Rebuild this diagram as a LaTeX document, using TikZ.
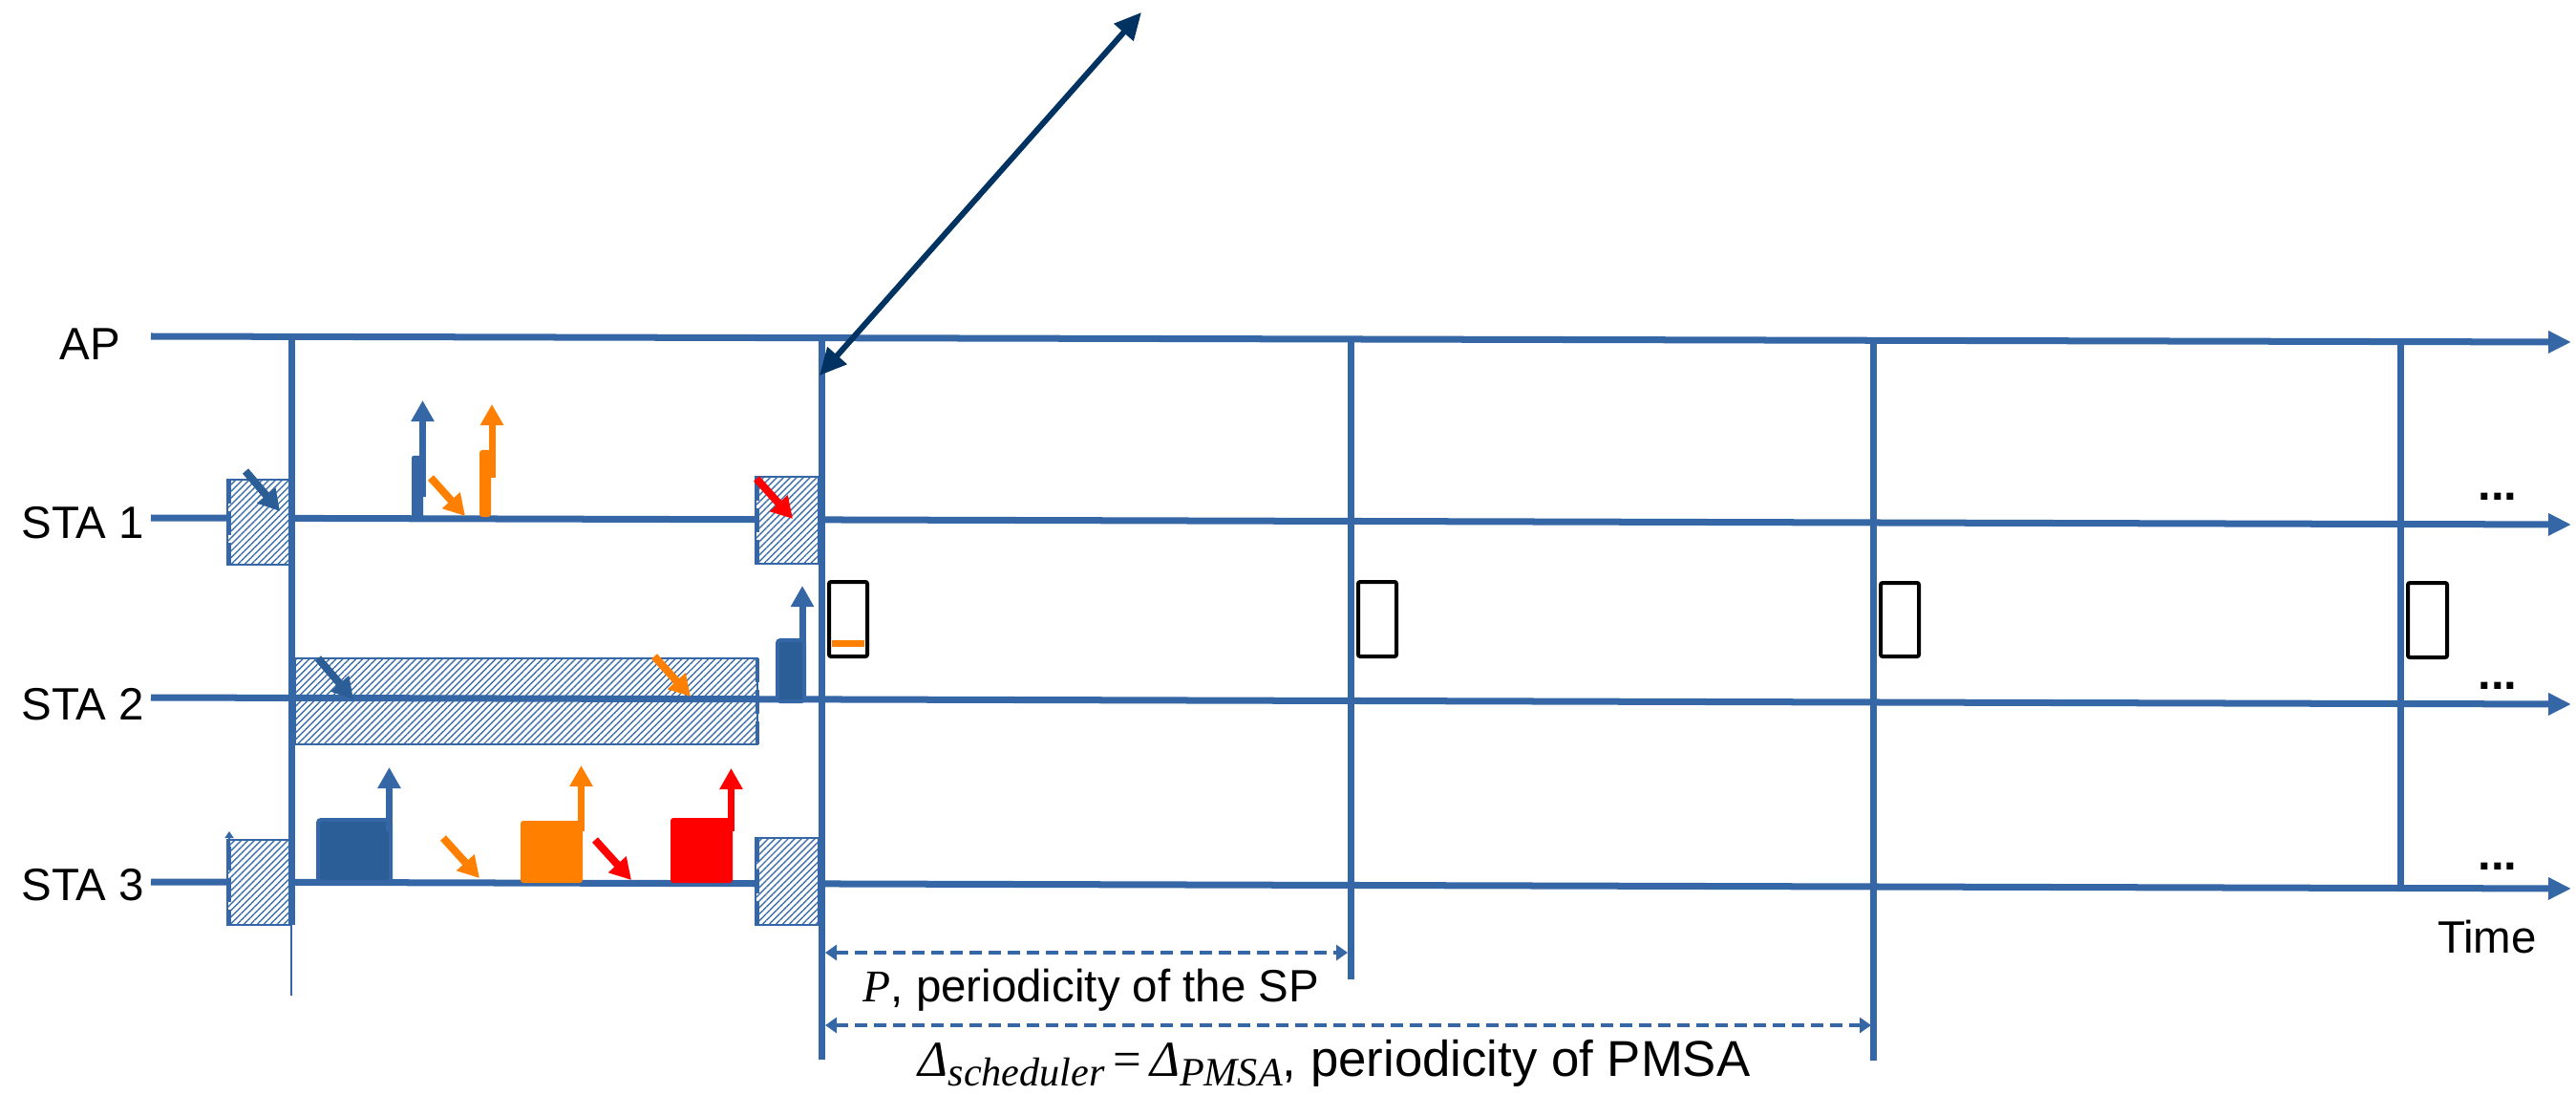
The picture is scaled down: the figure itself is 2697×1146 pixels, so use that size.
\documentclass[tikz,border=0pt]{standalone}
\usepackage{fontspec}
\setmainfont{Liberation Sans}
\newfontfamily\lserif{Liberation Serif}
\usetikzlibrary{arrows.meta,patterns.meta}
\definecolor{lb}{HTML}{3566A5}
\definecolor{db}{HTML}{2B5E96}
\definecolor{navy}{HTML}{003262}
\definecolor{org}{HTML}{FF8000}
\definecolor{rd}{HTML}{FF0000}
\definecolor{hatch}{HTML}{3F70AC}
\begin{document}
\begin{tikzpicture}[x=0.01cm,y=-0.01cm,
  lbl/.style={font=\fontsize{13.5}{16}\selectfont, inner sep=0pt},
  tline/.style={draw=lb, line width=0.07cm, -{Triangle[length=0.24cm,width=0.22cm]}},
  vline/.style={draw=lb, line width=0.07cm},
  thinv/.style={draw=lb, line width=0.015cm},
  hbox/.style={draw=lb, line width=0.02cm, preaction={fill=white}, pattern={Lines[angle=45,distance=1.4pt,line width=0.4pt]}, pattern color=hatch},
  dedge/.style={draw=lb, line width=0.045cm, dash pattern=on 0.25cm off 0.08cm},
  dnarr/.style={line width=0.08cm, -{Triangle[length=0.22cm,width=0.24cm]}},
  uparr/.style={line width=0.07cm, -{Triangle[length=0.22cm,width=0.23cm]}},
  bpkt/.style={fill=db, draw=lb, line width=0.04cm, rounded corners=0.03cm},
  slot/.style={draw=black, line width=0.04cm, rounded corners=0.02cm},
  darr/.style={draw=lb, line width=0.04cm, dash pattern=on 0.13cm off 0.07cm, {Triangle[length=0.12cm,width=0.16cm]}-{Triangle[length=0.12cm,width=0.16cm]}},
  bigarr/.style={draw=navy, line width=0.06cm, {Triangle[length=0.28cm,width=0.26cm]}-{Triangle[length=0.28cm,width=0.26cm]}}
]
\useasboundingbox (0,0) rectangle (2697,1146);

% coordinates of time lines
\coordinate (ap0) at (158,352);  \coordinate (ap1) at (2692,358);
\coordinate (s10) at (158,542);  \coordinate (s11) at (2692,549);
\coordinate (s20) at (158,730);  \coordinate (s21) at (2692,737);
\coordinate (s30) at (158,923);  \coordinate (s31) at (2692,930);

% STA2 long hatched box (under the line)
\draw[hbox] (309,689) rectangle (793,779);
\draw[dedge] (793,689) -- (793,779);

% time lines
\draw[tline] (ap0) -- (ap1);
\draw[tline] (s10) -- (s11);
\draw[tline] (s20) -- (s21);
\draw[tline] (s30) -- (s31);

% hatched boxes STA1 / STA3
\draw[hbox] (238,502) rectangle (305,591);
\draw[dedge] (240,502) -- (240,591);
\draw[hbox] (238,879) rectangle (305,968);
\draw[dedge] (240,886) -- (240,968);
\draw[lb, line width=0.025cm, -{Triangle[length=0.07cm,width=0.09cm]}] (240,890) -- (240,870);
\draw[hbox] (791,499) rectangle (857,590);
\draw[dedge] (793,499) -- (793,590);
\draw[hbox] (791,877) rectangle (857,968);
\draw[dedge] (793,877) -- (793,968);

% vertical lines
\coordinate (v1t) at (305,352); \coordinate (v1b) at (305,968); \coordinate (v1e) at (305,1042);
\coordinate (v2t) at (860,353); \coordinate (v2b) at (860,1109);
\coordinate (v3t) at (1414,355); \coordinate (v3b) at (1414,1025);
\coordinate (v4t) at (1961,356); \coordinate (v4b) at (1961,1110);
\coordinate (v5t) at (2513,357); \coordinate (v5b) at (2513,927);
\draw[vline] (v1t) -- (v1b);
\draw[thinv] (v1b) -- (v1e);
\draw[vline] (v2t) -- (v2b);
\draw[vline] (v3t) -- (v3b);
\draw[vline] (v4t) -- (v4b);
\draw[vline] (v5t) -- (v5b);

% STA1 packets
\fill[lb, rounded corners=0.02cm] (431,477) rectangle (443,543);
\draw[uparr, lb] (442.5,520) -- (442.5,419);
\fill[org, rounded corners=0.03cm] (502,471) rectangle (514,541);
\draw[uparr, org] (515,500) -- (515,423);

% STA2 packet
\draw[bpkt] (814,670) rectangle (842,734);
\draw[uparr, lb] (840,672) -- (840,613);

% STA3 packets
\draw[bpkt] (333,858) rectangle (409,923);
\draw[uparr, lb] (407.5,870) -- (407.5,803);
\fill[org, rounded corners=0.03cm] (545,859) rectangle (610,924);
\draw[uparr, org] (608.5,870) -- (608.5,801);
\fill[rd, rounded corners=0.03cm] (702,856) rectangle (767,924);
\draw[uparr, rd] (765.5,870) -- (765.5,804);

% incoming (down-right) arrows
\draw[dnarr, db] (257,493) -- (293,535);
\draw[dnarr, org] (451,500) -- (487,540);
\draw[dnarr, rd] (792,501) -- (830,543);
\draw[dnarr, db] (333,689) -- (370,732);
\draw[dnarr, org] (685,687) -- (723,729);
\draw[dnarr, org] (464,877) -- (502,919);
\draw[dnarr, rd] (623,879) -- (661,921);

% slots
\draw[slot] (868,609) rectangle (908,687);
\fill[org] (871,670) rectangle (905,677);
\draw[slot] (1422,609) rectangle (1462,687);
\draw[slot] (1969,610) rectangle (2009,687);
\draw[slot] (2521,610) rectangle (2562,688);

% big double arrow
\coordinate (bt) at (1195,13);
\coordinate (bb) at (858,393);
\draw[bigarr] (bb) -- (bt);

% period arrows
\coordinate (p0) at (864,997);  \coordinate (p1) at (1411,997);
\coordinate (q0) at (864,1073); \coordinate (q1) at (1959,1073);
\draw[darr] (p0) -- (p1);
\draw[darr] (q0) -- (q1);

% labels
\node[lbl] (lap) at (94,360) {AP};
\node[lbl] (l1) at (87,547) {STA 1};
\node[lbl] (l2) at (87,737) {STA 2};
\node[lbl] (l3) at (87,926) {STA 3};
\node[lbl, font=\fontsize{14}{16}\selectfont\bfseries, anchor=base] (d1) at (2615,524) {...};
\node[lbl, font=\fontsize{14}{16}\selectfont\bfseries, anchor=base] (d2) at (2615,721) {...};
\node[lbl, font=\fontsize{14}{16}\selectfont\bfseries, anchor=base] (d3) at (2615,910) {...};
\node[lbl] (time) at (2604,981) {Time};
\node[lbl, anchor=base west] (ptxt) at (903,1048) {{\lserif\itshape P}, periodicity of the SP};
\node[lbl, font=\fontsize{15}{17}\selectfont, anchor=base west] (dtxt) at (961,1126) {{\lserif\itshape Δ}\raisebox{-0.2em}{\fontsize{12}{13}\selectfont\lserif\itshape scheduler}\,{\lserif =}\,{\lserif\itshape Δ}\raisebox{-0.2em}{\fontsize{12}{13}\selectfont\lserif\itshape PMSA}, periodicity of PMSA};
\end{tikzpicture}
\end{document}
